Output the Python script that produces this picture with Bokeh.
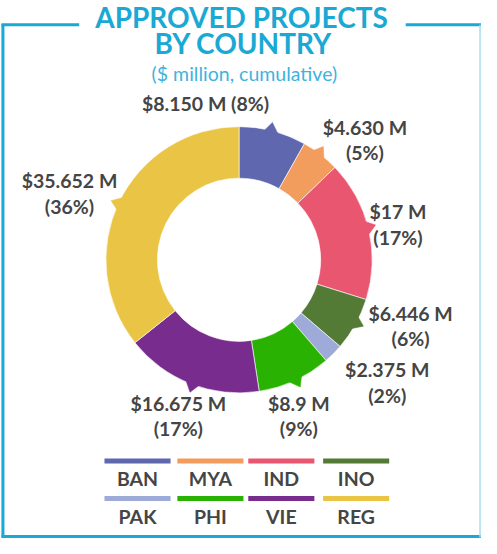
import math
from bokeh.plotting import figure
from bokeh.models import Range1d, ColumnDataSource
from bokeh.core.properties import value
from bokeh.embed import file_html
from bokeh.resources import INLINE

# ---- data ----
countries = ["BAN", "MYA", "IND", "INO", "PAK", "PHI", "VIE", "REG"]
amounts = [8.150, 4.630, 17.0, 6.446, 2.375, 8.9, 16.675, 35.652]
amount_labels = ["$8.150 M", "$4.630 M", "$17 M", "$6.446 M", "$2.375 M", "$8.9 M", "$16.675 M", "$35.652 M"]
colors = ["#5f67ae", "#f29c5e", "#e8566f", "#547b36", "#9eabd8", "#2ab203", "#782d8e", "#eac545"]

title1 = "APPROVED PROJECTS"
title2 = "BY COUNTRY"
subtitle = "($ million, cumulative)"

# ---- layout: coordinates in reference pixels, squeezed into the 481x538 figure ----
W, H = 481, 538
RX0, RX1 = 2, 497
RY0, RY1 = 2, 554
def sy(y):  # reference screen y -> data y
    return 554 - y

CX, CY = 247.5, 268
R_OUT, R_IN = 137, 84
label_pos = [(213, 108, True), (377, 132, False), (411, 219, False), (424, 323, False),
             (400, 381, False), (309, 415, False), (185, 415, False), (73, 187, False)]
BLUE = "#1aa8d4"
TXT = "#454545"
FONT = value("Lato")

p = figure(width=W, height=H, output_backend="svg", toolbar_location=None,
           x_range=Range1d(RX0, RX1), y_range=Range1d(sy(RY1), sy(RY0)),
           min_border=0, outline_line_color=None)
p.axis.visible = False
p.grid.visible = False
p.background_fill_color = "white"
p.border_fill_color = "white"

# frame
p.line([4.5, 4.5], [sy(26), sy(553)], line_color=BLUE, line_width=3)
p.line([3, 83], [sy(27), sy(27)], line_color=BLUE, line_width=3)
p.line([419, 497], [sy(27), sy(27)], line_color=BLUE, line_width=3)
p.line([3, 497], [sy(552), sy(552)], line_color=BLUE, line_width=3)
p.line([495.5, 495.5], [sy(27), sy(553)], line_color="#a9dcee", line_width=1.5)

# donut
total = sum(amounts)
starts, ends, mids = [], [], []
cum = 0.0
for a in amounts:
    s = cum / total
    cum += a
    e = cum / total
    starts.append(math.pi / 2 - 2 * math.pi * s)
    ends.append(math.pi / 2 - 2 * math.pi * e)
    mids.append(math.pi / 2 - 2 * math.pi * (s + e) / 2)

src = ColumnDataSource(dict(start=starts, end=ends, color=colors))
p.annular_wedge(x=CX, y=sy(CY), inner_radius=R_IN, outer_radius=R_OUT,
                start_angle="start", end_angle="end", direction="clock",
                fill_color="color", line_color="white", line_width=0.6, source=src)

# pointer tabs
xs, ys, tcols = [], [], []
for m, c, a in zip(mids, colors, amounts):
    if a / total < 0.03:
        continue
    d = math.radians(1)
    pts = [(R_OUT - 3, m + math.radians(4.0)), (R_OUT + 8, m + d), (R_OUT - 3, m - math.radians(3.0))]
    xs.append([CX + r * math.cos(t) for r, t in pts])
    ys.append([sy(CY) + r * math.sin(t) for r, t in pts])
    tcols.append(c)
p.patches(xs, ys, fill_color=tcols, line_color=tcols, line_width=0.5)

# value labels
for (lx, ly, single), lab, a in zip(label_pos, amount_labels, amounts):
    pct = "(%d%%)" % round(100 * a / total)
    if single:
        p.text([lx], [sy(ly)], text=[lab + " " + pct], text_align="center", text_baseline="middle",
               text_font=FONT, text_font_style="bold", text_font_size="19.5px", text_color=TXT)
    else:
        p.text([lx, lx], [sy(ly), sy(ly + 26)], text=[lab, pct], text_align="center", text_baseline="middle",
               text_font=FONT, text_font_style="bold", text_font_size="19.5px", text_color=TXT)

# titles
p.text([250, 252], [sy(19), sy(46)], text=[title1, title2], text_align="center", text_baseline="middle",
       text_font=FONT, text_font_style="bold", text_font_size="28px", text_color=BLUE)
p.text([253], [sy(77)], text=[subtitle], text_align="center", text_baseline="middle",
       text_font=FONT, text_font_size="19.5px", text_color="#3fb3dc")

# legend
col_x = [143, 218, 291, 368]
row_y = [474.5, 513]
for i, (name, c) in enumerate(zip(countries, colors)):
    cx = col_x[i % 4]
    ry = row_y[i // 4]
    p.line([cx - 34, cx + 34], [sy(ry), sy(ry)], line_color=c, line_width=5)
    p.text([cx], [sy(ry + 18)], text=[name], text_align="center", text_baseline="middle",
           text_font=FONT, text_font_style="bold", text_font_size="19.5px", text_color=TXT)

open("out.html", "w").write(file_html(p, INLINE))
